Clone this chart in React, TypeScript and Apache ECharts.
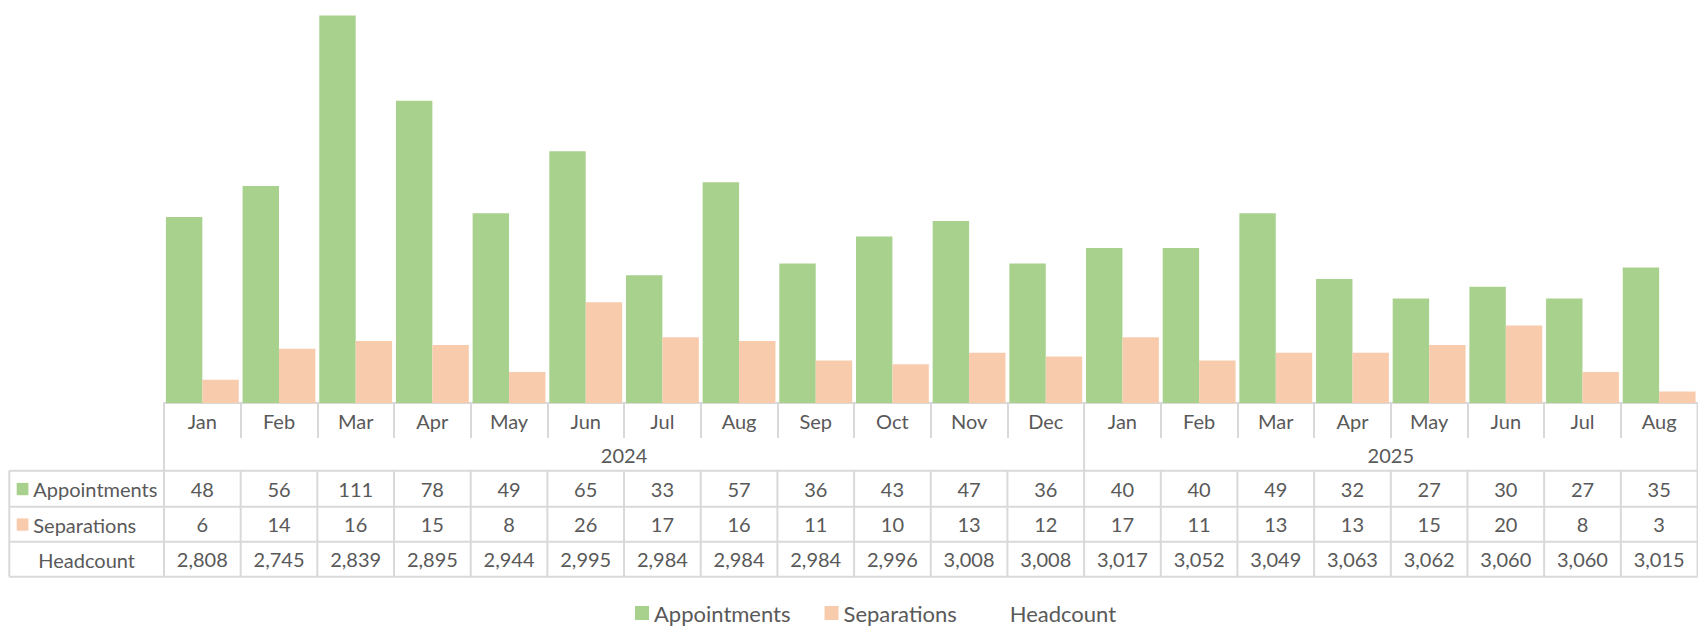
import React, { useEffect, useRef } from "react";
import * as echarts from "echarts";

const months = ["Jan","Feb","Mar","Apr","May","Jun","Jul","Aug","Sep","Oct","Nov","Dec","Jan","Feb","Mar","Apr","May","Jun","Jul","Aug"];
const years = [
  { label: "2024", start: 0, count: 12 },
  { label: "2025", start: 12, count: 8 },
];
const appointments = [48,56,111,78,49,65,33,57,36,43,47,36,40,40,49,32,27,30,27,35];
const separations = [6,14,16,15,8,26,17,16,11,10,13,12,17,11,13,13,15,20,8,3];
const headcount = [2808,2745,2839,2895,2944,2995,2984,2984,2984,2996,3008,3008,3017,3052,3049,3063,3062,3060,3060,3015];

const GREEN = "#A9D18E";
const ORANGE = "#F8CBAD";
const TEXT = "#595959";
const LINE = "#D9D9D9";
const FONT = "Lato, 'Noto Sans', sans-serif";
const FS = 20;
const LEGEND_FS = 22;

const W = 1698;
const H = 626;
const PLOT_LEFT = 164;
const PLOT_RIGHT = 1697.5;
const PLOT_TOP = 15.5;
const AXIS_Y = 403;
const TABLE_LEFT = 9.3;
const ROW_LINES = [470.7, 506.7, 541.7, 576.7];
const MONTH_ROW_BOTTOM = 438;

export default function App() {
  const ref = useRef<HTMLDivElement>(null);
  useEffect(() => {
    document.body.style.margin = "0";
    if (!ref.current) return;
    const chart = echarts.init(ref.current, undefined, { renderer: "svg" });
    const n = months.length;
    const cw = (PLOT_RIGHT - PLOT_LEFT) / n;
    const lineStyle = { stroke: LINE, lineWidth: 2 };
    const graphics: any[] = [];
    const hline = (x1: number, x2: number, y: number) =>
      graphics.push({ type: "line", silent: true, shape: { x1, y1: y, x2, y2: y }, style: lineStyle });
    const vline = (x: number, y1: number, y2: number) =>
      graphics.push({ type: "line", silent: true, shape: { x1: x, y1, x2: x, y2 }, style: lineStyle });

    // year row vertical borders
    vline(PLOT_LEFT, AXIS_Y, ROW_LINES[0]);
    vline(PLOT_RIGHT, AXIS_Y, ROW_LINES[0]);
    years.forEach((y) => {
      if (y.start > 0) vline(PLOT_LEFT + y.start * cw, AXIS_Y, ROW_LINES[0]);
      graphics.push({
        type: "text",
        silent: true,
        x: PLOT_LEFT + (y.start + y.count / 2) * cw,
        y: (MONTH_ROW_BOTTOM + ROW_LINES[0]) / 2 + 1,
        style: { text: y.label, fill: TEXT, fontSize: FS, fontFamily: FONT, align: "center", verticalAlign: "middle" },
      });
    });
    // data rows
    ROW_LINES.forEach((y) => hline(TABLE_LEFT, PLOT_RIGHT, y));
    vline(TABLE_LEFT, ROW_LINES[0], ROW_LINES[3]);
    for (let i = 0; i <= n; i++) vline(PLOT_LEFT + i * cw, ROW_LINES[0], ROW_LINES[3]);

    // row headers
    const rows = [
      { name: "Appointments", color: GREEN },
      { name: "Separations", color: ORANGE },
      { name: "Headcount", color: null as string | null },
    ];
    rows.forEach((r, i) => {
      const cy = (ROW_LINES[i] + ROW_LINES[i + 1]) / 2 + 0.5;
      if (r.color) {
        graphics.push({ type: "rect", silent: true, shape: { x: 16.7, y: cy - 6.3, width: 11.7, height: 12.3 }, style: { fill: r.color } });
        graphics.push({
          type: "text", silent: true, x: 33.3, y: cy,
          style: { text: r.name, fill: TEXT, fontSize: FS, fontFamily: FONT, align: "left", verticalAlign: "middle" },
        });
      } else {
        graphics.push({
          type: "text", silent: true, x: (TABLE_LEFT + PLOT_LEFT) / 2, y: cy,
          style: { text: r.name, fill: TEXT, fontSize: FS, fontFamily: FONT, align: "center", verticalAlign: "middle" },
        });
      }
    });

    const rowAxis = (data: string[], offset: number) => ({
      type: "category",
      gridIndex: 0,
      position: "bottom",
      offset,
      data,
      axisLine: { show: false },
      axisTick: { show: false },
      splitLine: { show: false },
      axisLabel: { interval: 0, margin: 0, verticalAlign: "middle", color: TEXT, fontSize: FS, fontFamily: FONT },
    });

    chart.setOption({
      animation: false,
      grid: { left: PLOT_LEFT, top: PLOT_TOP, width: PLOT_RIGHT - PLOT_LEFT, height: AXIS_Y - PLOT_TOP, containLabel: false },
      xAxis: [
        {
          type: "category",
          data: months,
          position: "bottom",
          axisLine: { show: true, lineStyle: { color: LINE, width: 2 } },
          axisTick: { show: true, length: MONTH_ROW_BOTTOM - AXIS_Y, lineStyle: { color: LINE, width: 2 } },
          axisLabel: { interval: 0, margin: 18, verticalAlign: "middle", color: TEXT, fontSize: FS, fontFamily: FONT },
          splitLine: { show: false },
        },
        rowAxis(appointments.map(String), 85.5),
        rowAxis(separations.map(String), 120.5),
        rowAxis(headcount.map((v) => v.toLocaleString("en-US")), 155.5),
      ],
      yAxis: [
        { type: "value", min: 0, max: 100, show: false, splitLine: { show: false } },
        { type: "value", min: 0, max: 4000, show: false, splitLine: { show: false } },
      ],
      legend: {
        left: 635,
        top: 602,
        padding: 0,
        icon: "rect",
        itemWidth: 14,
        itemHeight: 14,
        itemGap: 34,
        selectedMode: false,
        textStyle: { color: TEXT, fontSize: LEGEND_FS, fontFamily: FONT },
        data: [
          { name: "Appointments" },
          { name: "Separations" },
          { name: "Headcount", itemStyle: { opacity: 0 }, lineStyle: { opacity: 0 } },
        ],
      },
      series: [
        {
          name: "Appointments",
          type: "bar",
          data: appointments,
          xAxisIndex: 0,
          yAxisIndex: 0,
          clip: true,
          barGap: "0%",
          barCategoryGap: "5%",
          itemStyle: { color: GREEN },
        },
        {
          name: "Separations",
          type: "bar",
          data: separations,
          xAxisIndex: 0,
          yAxisIndex: 0,
          clip: true,
          barGap: "0%",
          barCategoryGap: "5%",
          itemStyle: { color: ORANGE },
        },
        {
          name: "Headcount",
          type: "line",
          data: headcount,
          xAxisIndex: 0,
          yAxisIndex: 1,
          symbol: "none",
          silent: true,
          lineStyle: { opacity: 0 },
          itemStyle: { color: "transparent", opacity: 0 },
        },
      ],
      graphic: graphics,
    });
    return () => chart.dispose();
  }, []);
  return <div ref={ref} style={{ width: W, height: H }} />;
}
